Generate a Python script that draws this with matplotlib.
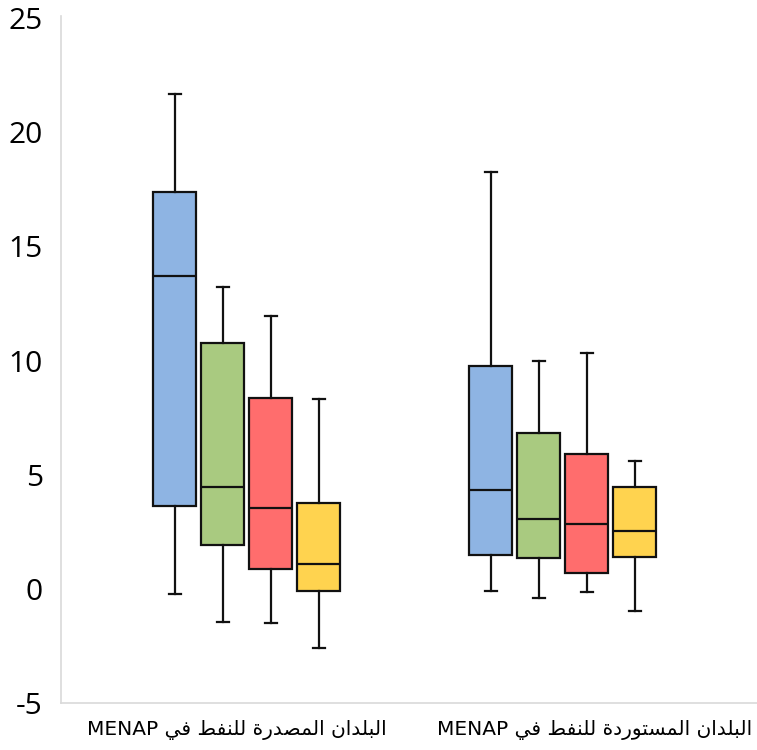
import matplotlib
matplotlib.use('Agg')
import matplotlib.pyplot as plt


# Box statistics (whisker low, Q1, median, Q3, whisker high).
GROUP_LABELS = ['البلدان المصدرة للنفط في', 'البلدان المستوردة للنفط في']
GROUP_SUFFIX = 'MENAP'

WHISKER_LOW = [
    [-0.23, -1.45, -1.48, -2.57],
    [-0.09, -0.41, -0.16, -0.99],
]
Q1 = [
    [3.64, 1.91, 0.86, -0.09],
    [1.49, 1.36, 0.69, 1.40],
]
MEDIAN = [
    [13.71, 4.44, 3.52, 1.10],
    [4.31, 3.05, 2.83, 2.54],
]
Q3 = [
    [17.40, 10.76, 8.34, 3.75],
    [9.74, 6.83, 5.91, 4.44],
]
WHISKER_HIGH = [
    [21.68, 13.24, 11.96, 8.31],
    [18.24, 9.96, 10.35, 5.58],
]

BOX_COLORS = ['#8EB4E3', '#A9CA80', '#FF6D6D', '#FFD34F']
Y_TICKS = [-5, 0, 5, 10, 15, 20, 25]

# Minimal Arabic shaping: base code point of the isolated presentation form.
JOIN_BOTH = {'ب': 0xFE8F, 'ت': 0xFE95, 'س': 0xFEB1, 'ص': 0xFEB9, 'ط': 0xFEC1,
             'ف': 0xFED1, 'ل': 0xFEDD, 'م': 0xFEE1, 'ن': 0xFEE5, 'ي': 0xFEF1}
JOIN_RIGHT = {'ا': 0xFE8D, 'ة': 0xFE93, 'د': 0xFEA9, 'ر': 0xFEAD, 'و': 0xFEED}


def shape_arabic(text):
    '''Turn logical Arabic text into joined presentation forms (still logical order).'''
    out = []
    for i, ch in enumerate(text):
        prev = text[i - 1] if i > 0 else ''
        nxt = text[i + 1] if i < len(text) - 1 else ''
        joins_prev = prev in JOIN_BOTH
        if ch in JOIN_BOTH:
            joins_next = nxt in JOIN_BOTH or nxt in JOIN_RIGHT
            form = {(False, False): 0, (True, False): 1,
                    (False, True): 2, (True, True): 3}[(joins_prev, joins_next)]
            out.append(chr(JOIN_BOTH[ch] + form))
        elif ch in JOIN_RIGHT:
            out.append(chr(JOIN_RIGHT[ch] + (1 if joins_prev else 0)))
        else:
            out.append(ch)
    return ''.join(out)


def visual_label(arabic, latin):
    '''Visual left-to-right order: latin run on the left, reversed Arabic on the right.'''
    return latin + ' ' + shape_arabic(arabic)[::-1]


def main():
    fig = plt.figure(figsize=(7.57, 7.5), dpi=100)
    ax = fig.add_axes([61 / 757, 47 / 750, 696 / 757, 687 / 750])

    group_centers = [0.534, 1.442]
    step = 0.138
    offsets = [-1.5 * step, -0.5 * step, 0.5 * step, 1.5 * step]

    for g, center in enumerate(group_centers):
        stats = []
        for k in range(4):
            stats.append({
                'whislo': WHISKER_LOW[g][k],
                'q1': Q1[g][k],
                'med': MEDIAN[g][k],
                'q3': Q3[g][k],
                'whishi': WHISKER_HIGH[g][k],
                'fliers': [],
            })
        positions = [center + o for o in offsets]
        bp = ax.bxp(stats, positions=positions, widths=0.124, capwidths=0.034,
                    patch_artist=True, showfliers=False, manage_ticks=False,
                    boxprops=dict(edgecolor='#111111', linewidth=1.6),
                    whiskerprops=dict(color='#111111', linewidth=1.6),
                    capprops=dict(color='#111111', linewidth=1.6),
                    medianprops=dict(color='#111111', linewidth=1.6))
        for patch, color in zip(bp['boxes'], BOX_COLORS):
            patch.set_facecolor(color)

    ax.set_xlim(0, 2)
    ax.set_ylim(-5, 25.09)
    ax.set_yticks(Y_TICKS)
    ax.set_yticklabels([str(t) for t in Y_TICKS], fontsize=21.5,
                       family=['Open Sans', 'DejaVu Sans'])
    ax.tick_params(axis='y', length=0, pad=13)

    labels = [visual_label(lbl, GROUP_SUFFIX) for lbl in GROUP_LABELS]
    ax.set_xticks([0.506, 1.533])
    ax.set_xticklabels(labels, fontsize=14.5, family=['DejaVu Sans'])
    ax.tick_params(axis='x', length=0, pad=12)

    for side in ['top', 'right']:
        ax.spines[side].set_visible(False)
    for side in ['left', 'bottom']:
        ax.spines[side].set_color('#D9D9D9')
        ax.spines[side].set_linewidth(1.2)

    fig.savefig('out.png', dpi=100)


if __name__ == '__main__':
    main()
